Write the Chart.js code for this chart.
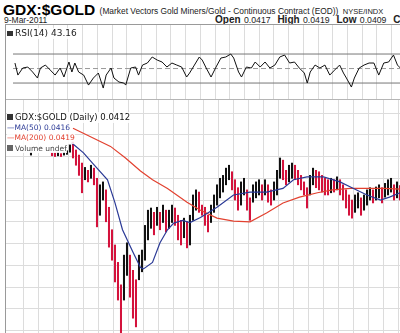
<!DOCTYPE html>
<html>
<head>
<meta charset="utf-8">
<script src="https://cdn.jsdelivr.net/npm/chart.js"></script>
<style>
body { margin: 0; width: 400px; height: 333px; overflow: hidden; background: #fff; position: relative; font-family: "Liberation Sans", Arial, sans-serif; }
.abs { position: absolute; white-space: nowrap; }
.hl { position: absolute; height: 1px; background: #9a9a9a; }
.vl { position: absolute; width: 1px; background: #9a9a9a; }
canvas { position: absolute; }
.leg { font-family: "DejaVu Sans", Verdana, sans-serif; background: rgba(255,255,255,0.85); height: 10.5px; line-height: 10.5px; display: table; }
.ico { display: inline-block; width: 6px; height: 6px; margin-right: 2px; }
</style>
</head>
<body>
<div class="abs" style="left:3px;top:1px;">
  <span style="font:bold 15.5px 'Liberation Sans';">GDX:$GOLD</span>
  <span style="font:8.4px 'Liberation Sans';color:#222;vertical-align:1px;">(Market Vectors Gold Miners/Gold - Continuous Contract (EOD))</span>
  <span style="font:7.5px 'Liberation Sans';color:#222;vertical-align:1px;">NYSE/INDX</span>
</div>
<div class="abs" style="left:4px;top:15px;font:8.5px 'Liberation Sans';color:#222;">9-Mar-2011</div>
<div class="abs" style="left:215px;top:14px;font:8.7px 'Liberation Sans';color:#222;word-spacing:1px;">
  <b style="font-size:10px;">Open</b> 0.0417 &nbsp;<b style="font-size:10px;">High</b> 0.0419 &nbsp;<b style="font-size:10px;">Low</b> 0.0409 &nbsp;<b style="font-size:10px;">Close</b> 0.0412
</div>

<canvas id="rsiChart" width="415" height="75" style="left:5px;top:24px;"></canvas>
<canvas id="mainChart" width="415" height="245" style="left:5px;top:100px;"></canvas>

<div class="hl" style="left:5px;top:24px;width:400px;"></div>
<div class="hl" style="left:5px;top:99px;width:400px;background:#b5b5b5;"></div>
<div class="vl" style="left:5px;top:24px;height:320px;"></div>

<div class="abs leg" style="left:7px;top:28px;font-size:9px;color:#222;">
  <span class="ico" style="background:#333;width:6px;height:5px;"></span>RSI(14) 43.16
</div>

<div class="abs" style="left:7px;top:112px;">
  <div class="leg" style="font-size:8.5px;color:#111;"><span class="ico" style="background:#333;"></span>GDX:$GOLD (Daily) 0.0412</div>
  <div class="leg" style="font-size:7.5px;color:#2b3a96;">&#8212;MA(50) 0.0416</div>
  <div class="leg" style="font-size:7.5px;color:#e2412f;">&#8212;MA(200) 0.0419</div>
  <div class="leg" style="font-size:7.5px;color:#444;height:9px;line-height:9px;"><span class="ico" style="background:#666;"></span>Volume undef</div>
</div>

<script>
// x = trading day (1.5 px per day), gridlines every 10 days
const xMin = -17.33;
const xMax = 259.33;
const gridDays = [0, 10, 20, 30, 40, 50, 60, 70, 80, 90, 100, 110, 120, 130, 140, 150, 160, 170, 180, 190, 200, 210, 220, 230, 240, 250];
const gridPrices = [0.022, 0.025, 0.028, 0.031, 0.034, 0.037, 0.040, 0.043, 0.046, 0.049, 0.052];

// daily price bars, one every 2 trading days (low / high)
const barLow = [0.0462, null, null, null, null, null, null, 0.0461, 0.0460, 0.0461, 0.0460, 0.0462, 0.0463, 0.0466, 0.0458, 0.0448,
  0.0434, 0.0410, 0.0428, 0.0425, 0.0430, 0.0421, 0.0363, 0.0379, 0.0400, 0.0370, 0.0335, 0.0317, 0.0287, 0.0262, 0.0216,
  0.0262, 0.0296, 0.0266, 0.0237, 0.0225, 0.0290, 0.0301, 0.0317, 0.0345, 0.0361, 0.0352, 0.0365, 0.0359, 0.0369, 0.0356,
  0.0361, 0.0369, 0.0365, 0.0345, 0.0338, 0.0348, 0.0334, 0.0338, 0.0372, 0.0386, 0.0383, 0.0379, 0.0365, 0.0356, 0.0369,
  0.0383, 0.0393, 0.0403, 0.0411, 0.0421, 0.0428, 0.0414, 0.0400, 0.0386, 0.0393, 0.0407, 0.0386, 0.0372, 0.0397, 0.0403,
  0.0407, 0.0400, 0.0407, 0.0397, 0.0393, 0.0400, 0.0407, 0.0430, 0.0428, 0.0421, 0.0425, 0.0430, 0.0428, 0.0421, 0.0414,
  0.0407, 0.0389, 0.0407, 0.0421, 0.0417, 0.0414, 0.0411, 0.0407, 0.0407, 0.0410, 0.0411, 0.0414, 0.0407, 0.0400, 0.0389,
  0.0379, 0.0375, 0.0383, 0.0389, 0.0379, 0.0386, 0.0393, 0.0400, 0.0396, 0.0400, 0.0403, 0.0396, 0.0404, 0.0407, 0.0411,
  0.0400, 0.0403, 0.0400];
const barHigh = [0.0466, null, null, null, null, null, null, 0.0465, 0.0465, 0.0466, 0.0464, 0.0466, 0.0468, 0.0476, 0.0480, 0.0469,
  0.0462, 0.0451, 0.0445, 0.0441, 0.0448, 0.0444, 0.0430, 0.0421, 0.0425, 0.0414, 0.0390, 0.0359, 0.0338, 0.0314, 0.0283,
  0.0324, 0.0341, 0.0324, 0.0303, 0.0290, 0.0324, 0.0331, 0.0365, 0.0386, 0.0389, 0.0383, 0.0390, 0.0383, 0.0393, 0.0386,
  0.0386, 0.0393, 0.0389, 0.0379, 0.0372, 0.0375, 0.0370, 0.0379, 0.0407, 0.0414, 0.0411, 0.0393, 0.0390, 0.0379, 0.0393,
  0.0407, 0.0421, 0.0430, 0.0434, 0.0444, 0.0448, 0.0439, 0.0428, 0.0417, 0.0425, 0.0430, 0.0414, 0.0403, 0.0421, 0.0425,
  0.0428, 0.0421, 0.0428, 0.0421, 0.0414, 0.0425, 0.0441, 0.0458, 0.0455, 0.0441, 0.0448, 0.0451, 0.0448, 0.0441, 0.0434,
  0.0425, 0.0417, 0.0434, 0.0444, 0.0441, 0.0439, 0.0434, 0.0430, 0.0428, 0.0430, 0.0428, 0.0432, 0.0428, 0.0421, 0.0414,
  0.0407, 0.0400, 0.0407, 0.0410, 0.0403, 0.0407, 0.0414, 0.0417, 0.0414, 0.0418, 0.0421, 0.0417, 0.0423, 0.0428, 0.0430,
  0.0421, 0.0425, 0.0420];

const ma50Days = [27, 35, 41, 51, 56, 61, 68, 73, 75, 81, 86, 91, 95, 101, 106, 113, 124, 135, 146, 157, 168, 175, 184, 195, 206, 215, 224, 233, 239, 246, 252];
const ma50 = [0.0479, 0.0465, 0.0451, 0.0428, 0.0396, 0.0359, 0.0328, 0.0307, 0.0305, 0.0314, 0.0341, 0.0359, 0.0368, 0.0372, 0.0369, 0.0376,
  0.0390, 0.0407, 0.0411, 0.0411, 0.0416, 0.0428, 0.0432, 0.0432, 0.0425, 0.0416, 0.0407, 0.0400, 0.0404, 0.0410, 0.0412];

const ma200Days = [28, 39, 53, 63, 73, 81, 91, 104, 113, 124, 135, 146, 157, 168, 179, 191, 201, 213, 224, 235, 246, 252];
const ma200 = [0.0499, 0.0488, 0.0474, 0.0458, 0.0440, 0.0428, 0.0416, 0.0397, 0.0386, 0.0375, 0.0371, 0.0370, 0.0382, 0.0396, 0.0404,
  0.0410, 0.0414, 0.0416, 0.0416, 0.0416, 0.0415, 0.0415];

const rsiDays = [-16, -14, -10.7, -7.3, -4, -0.7, 1.3, 4.7, 8, 11.3, 14.7, 17.3, 20.7, 22.7, 24.7, 27.3, 30.7, 34, 37.3, 40.7, 44, 46,
  49.3, 51.3, 54.7, 58, 59.3, 62.7, 66, 68, 70.7, 74, 77.3, 80.7, 84, 87.3, 90.7, 94, 97.3, 100.7, 102.7, 106, 109.3, 111.3, 114,
  117.3, 120.7, 124, 127.3, 130.7, 132.7, 136, 138, 141.3, 144.7, 147.3, 150.7, 154, 157.3, 160.7, 164, 167.3, 170.7, 174, 177.3,
  180.7, 182.7, 184.7, 188, 191.3, 194.7, 198, 201.3, 204.7, 207.3, 209.3, 212.7, 214.7, 218, 221.3, 224.7, 228, 231.3, 234.7, 238,
  241.3, 244, 246];
const rsi = [57.6, 41.0, 50.7, 52.1, 45.2, 36.9, 50.7, 54.8, 47.9, 41.0, 50.7, 38.3, 59.0, 45.2, 57.6, 45.2, 41.0, 27.2, 36.9, 43.8, 23.1, 41.0,
  50.7, 36.9, 31.4, 30.0, 27.2, 50.7, 52.1, 41.0, 54.8, 57.6, 65.9, 61.7, 59.0, 52.1, 57.6, 54.8, 52.1, 38.3, 43.8, 54.8, 65.9, 61.7, 50.7,
  38.3, 52.1, 64.5, 65.9, 70.0, 64.5, 45.2, 38.3, 52.1, 50.7, 59.0, 52.1, 59.0, 50.7, 54.8, 65.9, 68.6, 57.6, 59.0, 50.7,
  43.8, 30.0, 45.2, 54.8, 50.7, 54.8, 41.0, 47.9, 54.8, 43.8, 36.9, 24.5, 36.9, 50.7, 54.8, 57.6, 57.6, 41.0, 57.6, 59.0,
  68.6, 54.8, 50.7];
const rsiLevels = [70, 50, 30];

const RED = "#d4123c";
const gridColor = "#dcdcdc";

// bars: red when the bar sits lower than the previous one
let bars = [];
let prevMid = null;
barLow.forEach((lo, i) => {
  if (lo === null) return;
  let mid = (lo + barHigh[i]) / 2;
  bars.push({ x: i * 2, y: [lo, barHigh[i]], down: prevMid !== null && mid < prevMid });
  prevMid = mid;
});

function xScale() {
  return {
    type: "linear", min: xMin, max: xMax, offset: false,
    afterBuildTicks: s => { s.ticks = gridDays.map(v => ({ value: v })); },
    ticks: { display: false },
    grid: { color: gridColor, drawTicks: false },
    border: { display: false }
  };
}

new Chart(document.getElementById("mainChart"), {
  type: "bar",
  data: {
    datasets: [
      { type: "line", data: ma50Days.map((d, i) => ({ x: d, y: ma50[i] })), borderColor: "#2b3a96", borderWidth: 1.2, pointRadius: 0, order: 0 },
      { type: "line", data: ma200Days.map((d, i) => ({ x: d, y: ma200[i] })), borderColor: "#e2412f", borderWidth: 1.2, pointRadius: 0, order: 1 },
      { type: "bar", data: bars, barThickness: 1.4, backgroundColor: c => (c.raw && c.raw.down ? RED : "#111"), order: 2 }
    ]
  },
  options: {
    responsive: false, animation: false, devicePixelRatio: 1,
    layout: { padding: 0 },
    plugins: { legend: { display: false }, tooltip: { enabled: false } },
    scales: {
      x: xScale(),
      y: {
        min: 0.0200, max: 0.0538,
        afterBuildTicks: s => { s.ticks = gridPrices.map(v => ({ value: v })); },
        ticks: { display: false },
        grid: { color: gridColor, drawTicks: false },
        border: { display: false }
      }
    }
  }
});

new Chart(document.getElementById("rsiChart"), {
  type: "line",
  data: {
    datasets: [
      { data: rsiDays.map((d, i) => ({ x: d, y: rsi[i] })), borderColor: "#111", borderWidth: 1, pointRadius: 0 },
      ...rsiLevels.map(v => ({
        data: [{ x: xMin, y: v }, { x: xMax, y: v }],
        borderColor: v === 50 ? "#999" : "#777", borderWidth: 1,
        borderDash: v === 50 ? [5, 3] : [], pointRadius: 0
      }))
    ]
  },
  options: {
    responsive: false, animation: false, devicePixelRatio: 1,
    layout: { padding: 0 },
    plugins: { legend: { display: false }, tooltip: { enabled: false } },
    scales: {
      x: xScale(),
      y: { min: 8, max: 111.4, ticks: { display: false }, grid: { display: false }, border: { display: false } }
    }
  }
});
</script>
</body>
</html>
